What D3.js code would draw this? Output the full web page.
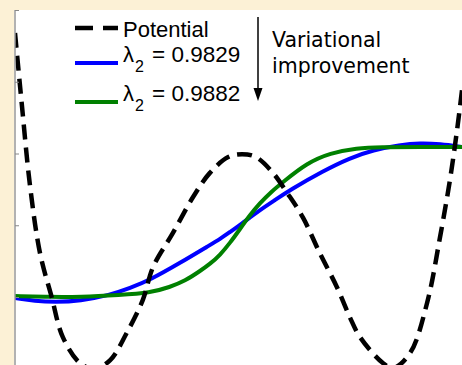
<!DOCTYPE html>
<html lang="en">
<head>
<meta charset="utf-8">
<title>Potential and variational states</title>
<script src="https://d3js.org/d3.v7.min.js"></script>
<style>
  body { margin: 0; background: #fcf1d6; }
  svg { display: block; }
</style>
</head>
<body>
<script>
// x runs 0..100 across the panel, y in arbitrary units (ticks 0..4)
var potentialX = [0, 1.5, 3.4, 5.6, 8.2, 10.7, 14.5, 17.7, 21.3, 25, 28.6, 30.9, 35.3, 39.8, 43.6, 47.7, 50.8, 53.9, 57.7, 60.9, 64.4, 68.2, 72.0, 74.9, 77.2, 82.3, 84.6, 88.4, 92.2, 95.1, 97.3, 98.9, 100];
var potentialY = [3.68, 2.70, 1.53, 0.61, 0.0, -0.56, -0.92, -1.0, -0.88, -0.5, -0.04, 0.42, 0.89, 1.39, 1.73, 1.95, 1.99, 1.95, 1.73, 1.45, 1.11, 0.61, 0.14, -0.28, -0.56, -0.92, -0.99, -0.78, -0.08, 0.84, 1.63, 2.33, 2.88];

var blueX = [0, 4.47, 8.95, 14.54, 21.25, 25.73, 30.2, 36.91, 43.62, 45.86, 48.1, 50.34, 52.57, 54.81, 58.17, 61.52, 68.9, 74.94, 80.09, 86.13, 90.6, 95.08, 100];
var blueY = [-0.014, -0.056, -0.07, -0.056, 0.028, 0.125, 0.237, 0.474, 0.725, 0.808, 0.906, 1.003, 1.108, 1.213, 1.352, 1.491, 1.756, 1.937, 2.049, 2.118, 2.146, 2.132, 2.091];

var greenX = [0, 7.83, 14.54, 23.49, 30.2, 34.68, 38.03, 41.39, 43.62, 45.86, 48.1, 50.34, 52.57, 54.81, 57.27, 59.96, 65.32, 70.47, 76.51, 81.66, 90.6, 100];
var greenY = [0.014, 0, 0, 0.028, 0.056, 0.139, 0.223, 0.362, 0.46, 0.585, 0.753, 0.948, 1.143, 1.31, 1.463, 1.603, 1.868, 2.007, 2.077, 2.091, 2.091, 2.091];

var yTicks = [0, 1, 2, 3, 4];
var legendNames = ["Potential", "0.9829", "0.9882"];
var seriesColors = ["#000000", "#0000ff", "#008000"];

var W = 462, H = 365;
var plot = {left: 15, top: 10, right: 462, bottom: 365};

var svg = d3.select("body").append("svg")
    .attr("width", W)
    .attr("height", H);

svg.append("rect")
    .attr("x", 14).attr("y", plot.top)
    .attr("width", W - 14).attr("height", H - plot.top)
    .attr("fill", "#ffffff");

svg.append("clipPath").attr("id", "clip")
  .append("rect")
    .attr("x", plot.left).attr("y", plot.top)
    .attr("width", plot.right - plot.left).attr("height", plot.bottom - plot.top);

var x = d3.scaleLinear().domain([0, 100]).range([plot.left, plot.right]);
var y = d3.scaleLinear().domain([-1, 4]).range([368.75, plot.top]);

var line = d3.line()
    .x(function(d) { return x(d[0]); })
    .y(function(d) { return y(d[1]); })
    .curve(d3.curveBasis);

function pairs(xs, ys) {
  return xs.map(function(v, i) { return [v, ys[i]]; });
}

var g = svg.append("g").attr("clip-path", "url(#clip)");

g.append("path")
    .datum(pairs(blueX, blueY))
    .attr("d", line)
    .attr("fill", "none")
    .attr("stroke", seriesColors[1])
    .attr("stroke-width", 4);

g.append("path")
    .datum(pairs(greenX, greenY))
    .attr("d", line)
    .attr("fill", "none")
    .attr("stroke", seriesColors[2])
    .attr("stroke-width", 4);

g.append("path")
    .datum(pairs(potentialX, potentialY))
    .attr("d", line.curve(d3.curveCatmullRom.alpha(0.5)))
    .attr("fill", "none")
    .attr("stroke", seriesColors[0])
    .attr("stroke-width", 4.5)
    .attr("stroke-dasharray", "15,8");

// left axis, ticks pointing inward
var axis = svg.append("g")
    .attr("transform", "translate(" + plot.left + ",0)")
    .call(d3.axisLeft(y).tickValues(yTicks).tickSizeInner(-4).tickSizeOuter(0).tickFormat(""));
axis.select(".domain").attr("stroke", "#999999").attr("stroke-width", 1.5)
    .attr("d", "M0," + plot.top + "V" + H);
axis.selectAll(".tick line").attr("stroke", "#888888").attr("stroke-width", 1);

// legend
var legend = svg.append("g");
var legendY = [28, 63, 102];

legend.append("line")
    .attr("x1", 75).attr("x2", 118)
    .attr("y1", legendY[0]).attr("y2", legendY[0])
    .attr("stroke", seriesColors[0])
    .attr("stroke-width", 4.5)
    .attr("stroke-dasharray", "18,10");
legend.append("text")
    .attr("x", 123).attr("y", 37)
    .attr("font-family", "Liberation Sans, Arial, sans-serif")
    .attr("font-size", 22)
    .text(legendNames[0]);

[1, 2].forEach(function(i) {
  legend.append("line")
      .attr("x1", 75).attr("x2", 118)
      .attr("y1", legendY[i]).attr("y2", legendY[i])
      .attr("stroke", seriesColors[i])
      .attr("stroke-width", 4);
  var base = legendY[i] - 1;
  legend.append("text")
      .attr("x", 123).attr("y", base)
      .attr("font-family", "Liberation Sans, Arial, sans-serif")
      .attr("font-size", 22)
      .text("\u03bb");
  legend.append("text")
      .attr("x", 135).attr("y", base + 10)
      .attr("font-family", "Liberation Sans, Arial, sans-serif")
      .attr("font-size", 16)
      .text("2");
  legend.append("text")
      .attr("x", 152).attr("y", base)
      .attr("font-family", "Liberation Sans, Arial, sans-serif")
      .attr("font-size", 22.5)
      .text("= " + legendNames[i]);
});

// arrow
svg.append("line")
    .attr("x1", 258).attr("x2", 258)
    .attr("y1", 17).attr("y2", 88)
    .attr("stroke", "#000")
    .attr("stroke-width", 1.5);
svg.append("path")
    .attr("d", "M253.5,88L262.5,88L258,101Z")
    .attr("fill", "#000");

var note = svg.append("text")
    .attr("font-family", "DejaVu Sans, sans-serif")
    .attr("font-size", 20.5)
    .attr("fill", "#000");
note.append("tspan").attr("x", 272).attr("y", 47).text("Variational");
note.append("tspan").attr("x", 272).attr("y", 73).text("improvement");
</script>
</body>
</html>
